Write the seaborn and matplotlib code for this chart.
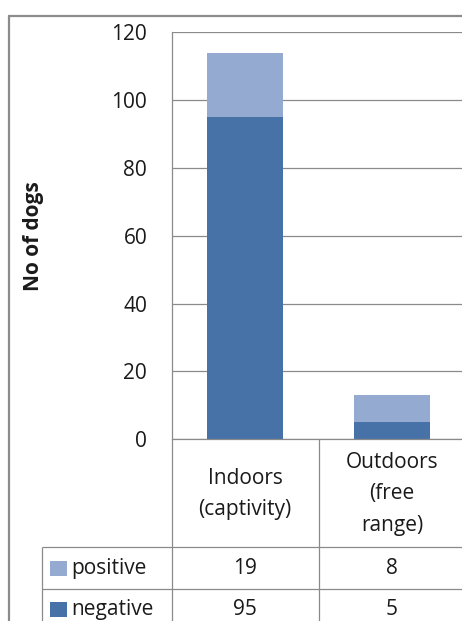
import matplotlib
matplotlib.use("Agg")
import matplotlib.pyplot as plt
from matplotlib.lines import Line2D
from matplotlib.patches import Rectangle
import seaborn as sns
import pandas as pd

# Data
categories = ["Indoors\n(captivity)", "Outdoors\n(free\nrange)"]
series_names = ["positive", "negative"]
positive = [19, 8]
negative = [95, 5]
y_ticks = [0, 20, 40, 60, 80, 100, 120]
y_label = "No of dogs"

dark = "#4672A8"
light = "#95AAD0"
grid_col = "#8A8A8A"
text_col = "#1A1A1A"
fs = 15

sns.set_theme(style="white")
plt.rcParams["font.family"] = ["Open Sans", "DejaVu Sans"]

W, H = 462, 621
fig = plt.figure(figsize=(W / 100, H / 100), dpi=100)
fig.patch.set_facecolor("white")

# plot area in pixel coordinates (left, top, right, bottom)
pl, pt, pr, pb = 171.5, 32.3, 462, 439.3
ax = fig.add_axes([pl / W, 1 - pb / H, (pr - pl) / W, (pb - pt) / H])

df = pd.DataFrame({
    "category": categories,
    "total": [p + n for p, n in zip(positive, negative)],
    "negative": negative,
})
bw = 0.514
sns.barplot(data=df, x="category", y="total", color=light, saturation=1,
            width=bw, ax=ax, zorder=3, linewidth=0)
sns.barplot(data=df, x="category", y="negative", color=dark, saturation=1,
            width=bw, ax=ax, zorder=4, linewidth=0)

col_w = 147.0
ax.set_xlim(-0.5, -0.5 + (pr - pl) / col_w)
ax.set_ylim(0, 120)
ax.set_yticks(y_ticks)
ax.set_yticklabels([str(t) for t in y_ticks], fontsize=fs, color=text_col)
ax.set_xticks([])
ax.set_xlabel("")
ax.set_ylabel("")
ax.tick_params(axis="y", length=0, pad=17.5)
ax.yaxis.grid(True, color=grid_col, linewidth=0.9)
ax.set_axisbelow(True)
for s in ["top", "right", "bottom"]:
    ax.spines[s].set_visible(False)
ax.spines["left"].set_color(grid_col)
ax.spines["left"].set_linewidth(0.9)
ax.set_facecolor("white")

# overlay in pixel coordinates for frame and data table
ov = fig.add_axes([0, 0, 1, 1], zorder=10)
ov.set_xlim(0, W)
ov.set_ylim(H, 0)
ov.axis("off")
ov.patch.set_alpha(0)


def px_x(xdata):
    disp = ax.transData.transform((xdata, 0))
    return disp[0] * W / fig.bbox.width


def hline(y, x0, x1, lw=0.9, c=grid_col):
    ov.add_line(Line2D([x0, x1], [y, y], color=c, linewidth=lw, solid_capstyle="butt"))


def vline(x, y0, y1, lw=0.9, c=grid_col):
    ov.add_line(Line2D([x, x], [y0, y1], color=c, linewidth=lw, solid_capstyle="butt"))


# chart frame
vline(8.5, 15.5, H, lw=1.6, c="#8C8C8C")
hline(15.8, 7.7, W, lw=1.6, c="#8C8C8C")

# table grid
hline(pb, pl, W)
vline(pl, pb, H)
vline(pl + col_w, pb, H)
row1_top, row2_top = 546.5, 588.5
hline(row1_top, 41.5, W)
hline(row2_top, 41.5, W)
vline(41.5, row1_top, H)

# y label
ov.text(33, 236, y_label, rotation=90, ha="center", va="center",
        fontsize=fs, fontweight="bold", color=text_col)

# category headers
header_mid = (pb + row1_top) / 2 + 1
for i, cat in enumerate(categories):
    ov.text(px_x(i), header_mid, cat, ha="center", va="center",
            fontsize=fs, color=text_col, linespacing=1.65)

# series rows
rows = [(series_names[0], positive, light, (row1_top + row2_top) / 2 + 1),
        (series_names[1], negative, dark, row2_top + 21)]
for name, vals, col, yc in rows:
    ov.add_patch(Rectangle((50, yc - 7.5), 17, 15, facecolor=col, edgecolor="none"))
    ov.text(71, yc, name, ha="left", va="center", fontsize=fs, color=text_col)
    for i, v in enumerate(vals):
        ov.text(px_x(i), yc, str(v), ha="center", va="center",
                fontsize=fs, color=text_col)

fig.savefig("out.png", dpi=100, facecolor="white")
